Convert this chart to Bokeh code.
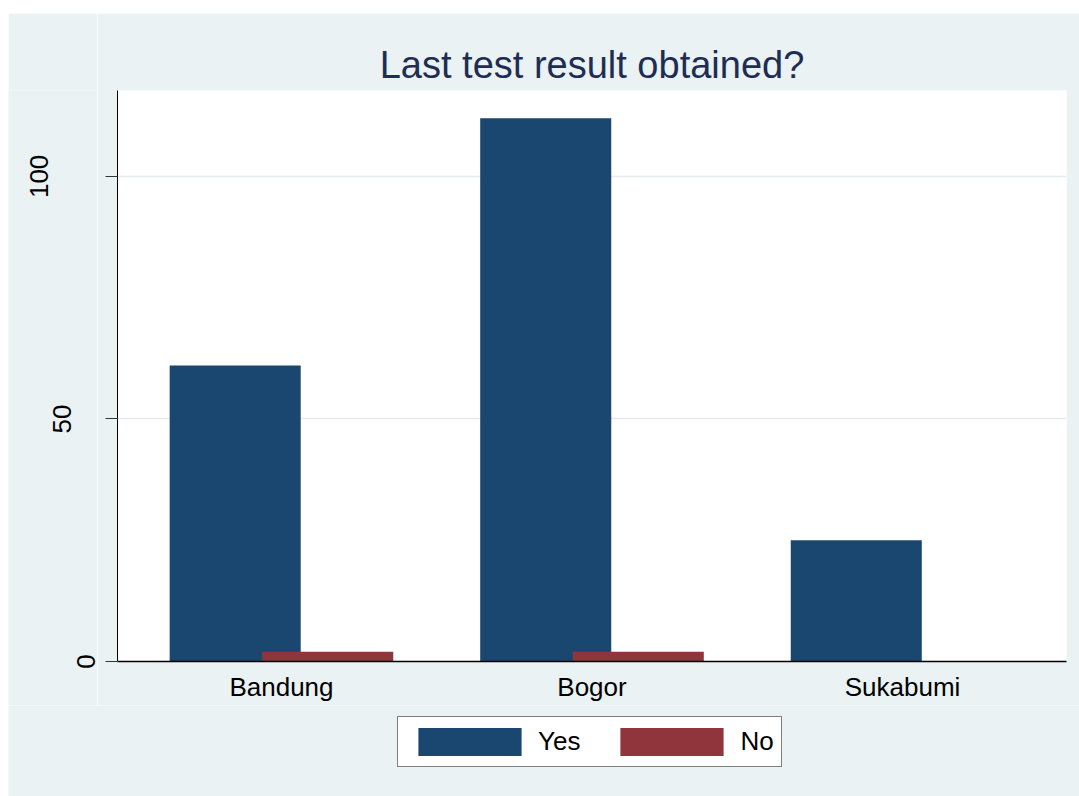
import math
from bokeh.plotting import figure
from bokeh.models import (ColumnDataSource, FixedTicker, Legend, LegendItem,
                          Spacer, Range1d)
from bokeh.core.properties import value
from bokeh.layouts import column, row
from bokeh.embed import file_html
from bokeh.resources import INLINE

# ---- data ----
categories = ["Bandung", "Bogor", "Sukabumi"]
yes_counts = [61, 112, 25]
no_counts = [2, 2, 0]
series_labels = ["Yes", "No"]
y_ticks = [0, 50, 100]

# ---- style ----
FONT = "Liberation Sans"
BLUE = "#1A476F"
RED = "#90353B"
BG = "#EAF2F3"
TITLE_COLOR = "#1E2D54"
PAD = 0.528
DODGE = 0.149
BAR_W = 0.422
Y_MAX = 117.7
LAB_W = 89          # width of the strip holding the y tick labels
AXIS_GAP = 20       # main figure's left border (holds ticks)
MAIN_H = 692
B_TOP, B_BOTTOM = 77, 44

xs = list(range(len(categories)))
yr = Range1d(0, Y_MAX)

p = figure(width=1071 - LAB_W, height=MAIN_H, output_backend="svg",
           toolbar_location=None,
           x_range=(-PAD, len(categories) - 1 + PAD), y_range=yr,
           min_border_left=AXIS_GAP, min_border_right=13,
           min_border_top=B_TOP, min_border_bottom=B_BOTTOM,
           title="Last test result obtained?")

src_yes = ColumnDataSource(dict(x=[i - DODGE for i in xs], top=yes_counts))
src_no = ColumnDataSource(dict(x=[i + DODGE for i in xs], top=no_counts))
p.vbar(x="x", top="top", bottom=0, width=BAR_W, source=src_yes,
       fill_color=BLUE, line_color=None)
p.vbar(x="x", top="top", bottom=0, width=BAR_W, source=src_no,
       fill_color=RED, line_color=None)

p.background_fill_color = "white"
p.border_fill_color = BG
p.outline_line_color = None

p.title.text_font = FONT
p.title.text_font_size = "38px"
p.title.text_font_style = "normal"
p.title.text_color = TITLE_COLOR
p.title.align = "center"
p.title.standoff = 9

p.xaxis.ticker = FixedTicker(ticks=xs)
p.xaxis.major_label_overrides = {i: c for i, c in enumerate(categories)}
p.xaxis.major_tick_out = 0
p.xaxis.major_tick_in = 0
p.xaxis.minor_tick_out = 0
p.xaxis.minor_tick_in = 0
p.xaxis.axis_line_color = "black"
p.xaxis.axis_line_width = 1.5
p.xaxis.major_label_text_font = FONT
p.xaxis.major_label_text_font_size = "26px"
p.xaxis.major_label_text_color = "black"
p.xaxis.major_label_standoff = 10

p.yaxis.ticker = FixedTicker(ticks=y_ticks)
p.yaxis.major_label_text_font_size = "0px"
p.yaxis.major_label_standoff = 0
p.yaxis.major_tick_out = 12
p.yaxis.major_tick_in = 0
p.yaxis.minor_tick_out = 0
p.yaxis.minor_tick_in = 0
p.yaxis.axis_line_color = "black"
p.yaxis.major_tick_line_color = "#333333"

p.xgrid.visible = False
p.ygrid.ticker = FixedTicker(ticks=y_ticks)
p.ygrid.grid_line_color = "#E3ECEE"
p.ygrid.grid_line_width = 1.5

# ---- strip with rotated y tick labels (Stata-style stagger) ----
px_per_unit = (MAIN_H - B_TOP - B_BOTTOM) / Y_MAX
ylab = figure(width=LAB_W, height=MAIN_H, output_backend="svg",
              toolbar_location=None, x_axis_location=None,
              y_axis_location=None, x_range=Range1d(0, LAB_W),
              y_range=Range1d(-B_BOTTOM / px_per_unit, Y_MAX),
              min_border_left=0, min_border_right=0, min_border_top=B_TOP,
              min_border_bottom=0)
ylab.background_fill_color = BG
ylab.border_fill_color = BG
ylab.outline_line_color = None
ylab.grid.visible = False
ylab_text = [str(v) for v in y_ticks]
ylab_src = ColumnDataSource(dict(
    x=[LAB_W] * len(y_ticks), y=y_ticks, text=ylab_text,
    xoff=[AXIS_GAP - (32 + 23.5 * (len(t) - 1)) for t in ylab_text]))
ylab.text(x="x", y="y", text="text", x_offset="xoff", source=ylab_src,
          angle=math.pi / 2, text_align="center", text_baseline="alphabetic",
          text_font=value(FONT), text_font_size="26px", text_color="black")

# ---- legend strip below the chart ----
lg = figure(width=1071, height=91, output_backend="svg", toolbar_location=None,
            x_axis_location=None, y_axis_location=None,
            x_range=Range1d(0, 1), y_range=Range1d(0, 1),
            min_border_left=0, min_border_right=0, min_border_top=0,
            min_border_bottom=0)
lg.background_fill_color = BG
lg.border_fill_color = BG
lg.outline_line_color = None
lg.grid.visible = False
key_yes = lg.vbar(x=[0.5], top=[0], bottom=[0], width=0,
                  fill_color=BLUE, line_color=None)
key_no = lg.vbar(x=[0.5], top=[0], bottom=[0], width=0,
                 fill_color=RED, line_color=None)
legend = Legend(items=[LegendItem(label=series_labels[0], renderers=[key_yes]),
                       LegendItem(label=series_labels[1], renderers=[key_no])],
                orientation="horizontal", location=(389, 29),
                glyph_width=129, glyph_height=35, label_height=35,
                label_standoff=4, spacing=27, padding=7, margin=0,
                border_line_color="black", border_line_width=1.5,
                background_fill_color="white", background_fill_alpha=1,
                label_text_font=FONT, label_text_font_size="26px",
                label_text_color="black")
lg.add_layout(legend)

layout = row(Spacer(width=8, height=10),
             column(Spacer(width=10, height=13), row(column(ylab), p), lg))
open("out.html", "w").write(file_html(layout, INLINE))
